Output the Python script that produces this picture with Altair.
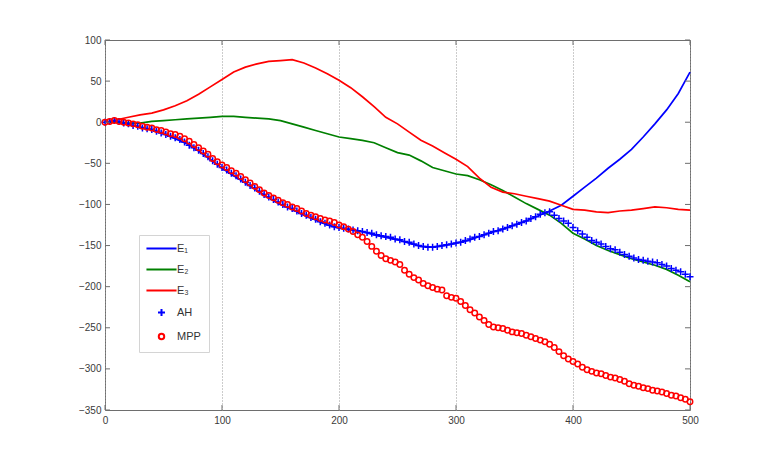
import altair as alt
import pandas as pd

# ---------------- data ----------------
X_LINE = list(range(0, 501, 10))
X_MARK = list(range(0, 501, 4))

E1 = [0, 1, -3, -6, -9, -14, -20, -26, -35, -45,
      -56, -65, -74, -83, -92, -100, -106, -113, -119, -125,
      -129, -131, -133, -137, -140, -143, -147, -151, -152, -150,
      -147, -144, -139, -134, -130, -125, -120, -114, -108, -101,
      -90, -79, -68, -56, -45, -33, -18, -2, 15, 35, 61]
E2 = [0, 0, -1, -1, 1, 2, 3, 4, 5, 6,
      7, 7, 6, 5, 4, 2, -2, -6, -10, -14,
      -18, -20, -22, -25, -31, -37, -40, -47, -55, -59,
      -63, -65, -70, -76, -83, -91, -99, -106, -113, -123,
      -135, -142, -150, -156, -161, -166, -170, -174, -179, -186, -194]
E3 = [0, 3, 6, 9, 11, 15, 20, 26, 34, 43,
      52, 61, 67, 71, 74, 75, 76, 72, 66, 59,
      51, 42, 31, 19, 6, -2, -12, -22, -29, -37,
      -45, -54, -68, -79, -85, -87, -90, -93, -96, -101,
      -106, -107, -109, -110, -108, -107, -105, -103, -104, -106, -107]

AH = [0, 1, 2, 1, -1, -2, -4, -5, -7, -8,
      -9, -11, -13, -15, -17, -19, -21, -24, -28, -31,
      -34, -38, -42, -47, -51, -55, -58, -62, -65, -69,
      -73, -77, -80, -84, -88, -91, -94, -97, -100, -103,
      -105, -108, -111, -113, -116, -118, -121, -123, -125, -127,
      -128, -129, -130, -131, -132, -133, -134, -135, -137, -138,
      -139, -140, -142, -143, -145, -146, -148, -150, -151, -152,
      -152, -151, -150, -149, -148, -147, -146, -144, -142, -140,
      -139, -137, -135, -133, -132, -130, -128, -126, -124, -122,
      -120, -117, -115, -112, -110, -109, -113, -117, -120, -123,
      -128, -132, -136, -140, -144, -146, -148, -151, -154, -155,
      -158, -161, -163, -165, -167, -168, -169, -170, -171, -173,
      -175, -178, -180, -182, -185, -188]
MPP = [0, 1, 2, 1, 0, -1, -2, -3, -5, -6,
       -7, -9, -10, -12, -14, -15, -17, -20, -23, -27,
       -31, -35, -39, -44, -48, -52, -55, -59, -62, -66,
       -70, -74, -78, -82, -86, -89, -92, -95, -98, -100,
       -103, -105, -108, -111, -113, -115, -117, -119, -120, -122,
       -125, -127, -130, -133, -137, -140, -145, -151, -157, -162,
       -166, -168, -170, -173, -180, -185, -189, -192, -196, -199,
       -201, -203, -204, -211, -213, -214, -218, -223, -228, -232,
       -237, -241, -246, -249, -250, -251, -253, -255, -256, -257,
       -259, -261, -263, -265, -267, -270, -274, -279, -284, -288,
       -291, -294, -298, -301, -303, -305, -306, -308, -310, -311,
       -313, -315, -318, -320, -321, -323, -324, -326, -327, -328,
       -330, -332, -333, -335, -337, -340]

SERIES = ["E\u2081", "E\u2082", "E\u2083", "AH", "MPP"]
COLORS = ["#0000ff", "#008000", "#ff0000", "#0000ff", "#ff0000"]
X_TICKS = [0, 100, 200, 300, 400, 500]
Y_TICKS = [-350, -300, -250, -200, -150, -100, -50, 0, 50, 100]

# ---------------- tables ----------------
line_rows = []
for name, vals in zip(SERIES[:3], [E1, E2, E3]):
    for x, v in zip(X_LINE, vals):
        line_rows.append({"x": x, "v": v, "s": name})
lines_df = pd.DataFrame(line_rows)

mark_rows = []
for name, vals in zip(SERIES[3:], [AH, MPP]):
    for x, v in zip(X_MARK, vals):
        mark_rows.append({"x": x, "v": v, "s": name})
marks_df = pd.DataFrame(mark_rows)

xt_df = pd.DataFrame({"x": X_TICKS})
yt_df = pd.DataFrame({"v": Y_TICKS})

W, H = 585, 370
FONT = "Liberation Sans"
AXC = "#6e6e6e"

LINE_PATH = "M-4.3,0L4.3,0"
PLUS_PATH = "M-1,0L1,0M0,-1L0,1"
CIRC_PATH = "M0.78,0A0.78,0.78 0 1,1 -0.78,0A0.78,0.78 0 1,1 0.78,0Z"
SHAPES = [LINE_PATH, LINE_PATH, LINE_PATH, PLUS_PATH, CIRC_PATH]

xs = alt.Scale(domain=[0, 500], nice=False, zero=False)
ys = alt.Scale(domain=[-350, 100], nice=False, zero=False)

legend = alt.Legend(
    title=None, orient="none", legendX=34, legendY=195,
    symbolSize=49, symbolStrokeWidth=2, symbolOffset=9,
    labelFont=FONT, labelFontSize=11, labelColor="#333333", labelOffset=10,
    padding=8, rowPadding=9, strokeColor="#d4d4d4", fillColor="white",
)
color = alt.Color("s:N", scale=alt.Scale(domain=SERIES, range=COLORS), legend=legend)
shape = alt.Shape("s:N", scale=alt.Scale(domain=SERIES, range=SHAPES), legend=legend)

x_axis = alt.Axis(values=X_TICKS, title=None, grid=True, gridDash=[1, 2],
                  gridColor="#999999", ticks=False, domain=False, labelPadding=5,
                  labelFlush=False, labelFont=FONT, labelFontSize=10, labelColor="#3a3a3a")
y_axis = alt.Axis(values=Y_TICKS, title=None, grid=False, ticks=False, domain=False,
                  labelPadding=4, labelFont=FONT, labelFontSize=10, labelColor="#3a3a3a")

X = alt.X("x:Q", scale=xs, axis=x_axis)
Y = alt.Y("v:Q", scale=ys, axis=y_axis)

lines = alt.Chart(lines_df).mark_line(strokeWidth=1.7).encode(
    x=X, y=Y, color=color, detail="s:N",
)

points = alt.Chart(marks_df).mark_point(filled=False, size=49, strokeWidth=1.5, opacity=1).encode(
    x=X, y=Y, color=color, shape=shape,
)

xt_bottom = alt.Chart(xt_df).mark_rule(color=AXC, strokeWidth=1).encode(
    x=X, y=alt.value(H), y2=alt.value(H - 5))
xt_top = alt.Chart(xt_df).mark_rule(color=AXC, strokeWidth=1).encode(
    x=X, y=alt.value(0), y2=alt.value(5))
yt_left = alt.Chart(yt_df).mark_rule(color=AXC, strokeWidth=1).encode(
    y=Y, x=alt.value(0), x2=alt.value(5))
yt_right = alt.Chart(yt_df).mark_rule(color=AXC, strokeWidth=1).encode(
    y=Y, x=alt.value(W), x2=alt.value(W - 5))

chart = alt.layer(lines, points, xt_bottom, xt_top, yt_left, yt_right).properties(
    width=W, height=H,
    autosize=alt.AutoSizeParams(type="none"),
    padding={"left": 97, "top": 32, "right": 40, "bottom": 40},
    background="white",
).configure_view(stroke=AXC, strokeWidth=1)

chart.save("out.html", embed_options={"renderer": "svg", "actions": False})
